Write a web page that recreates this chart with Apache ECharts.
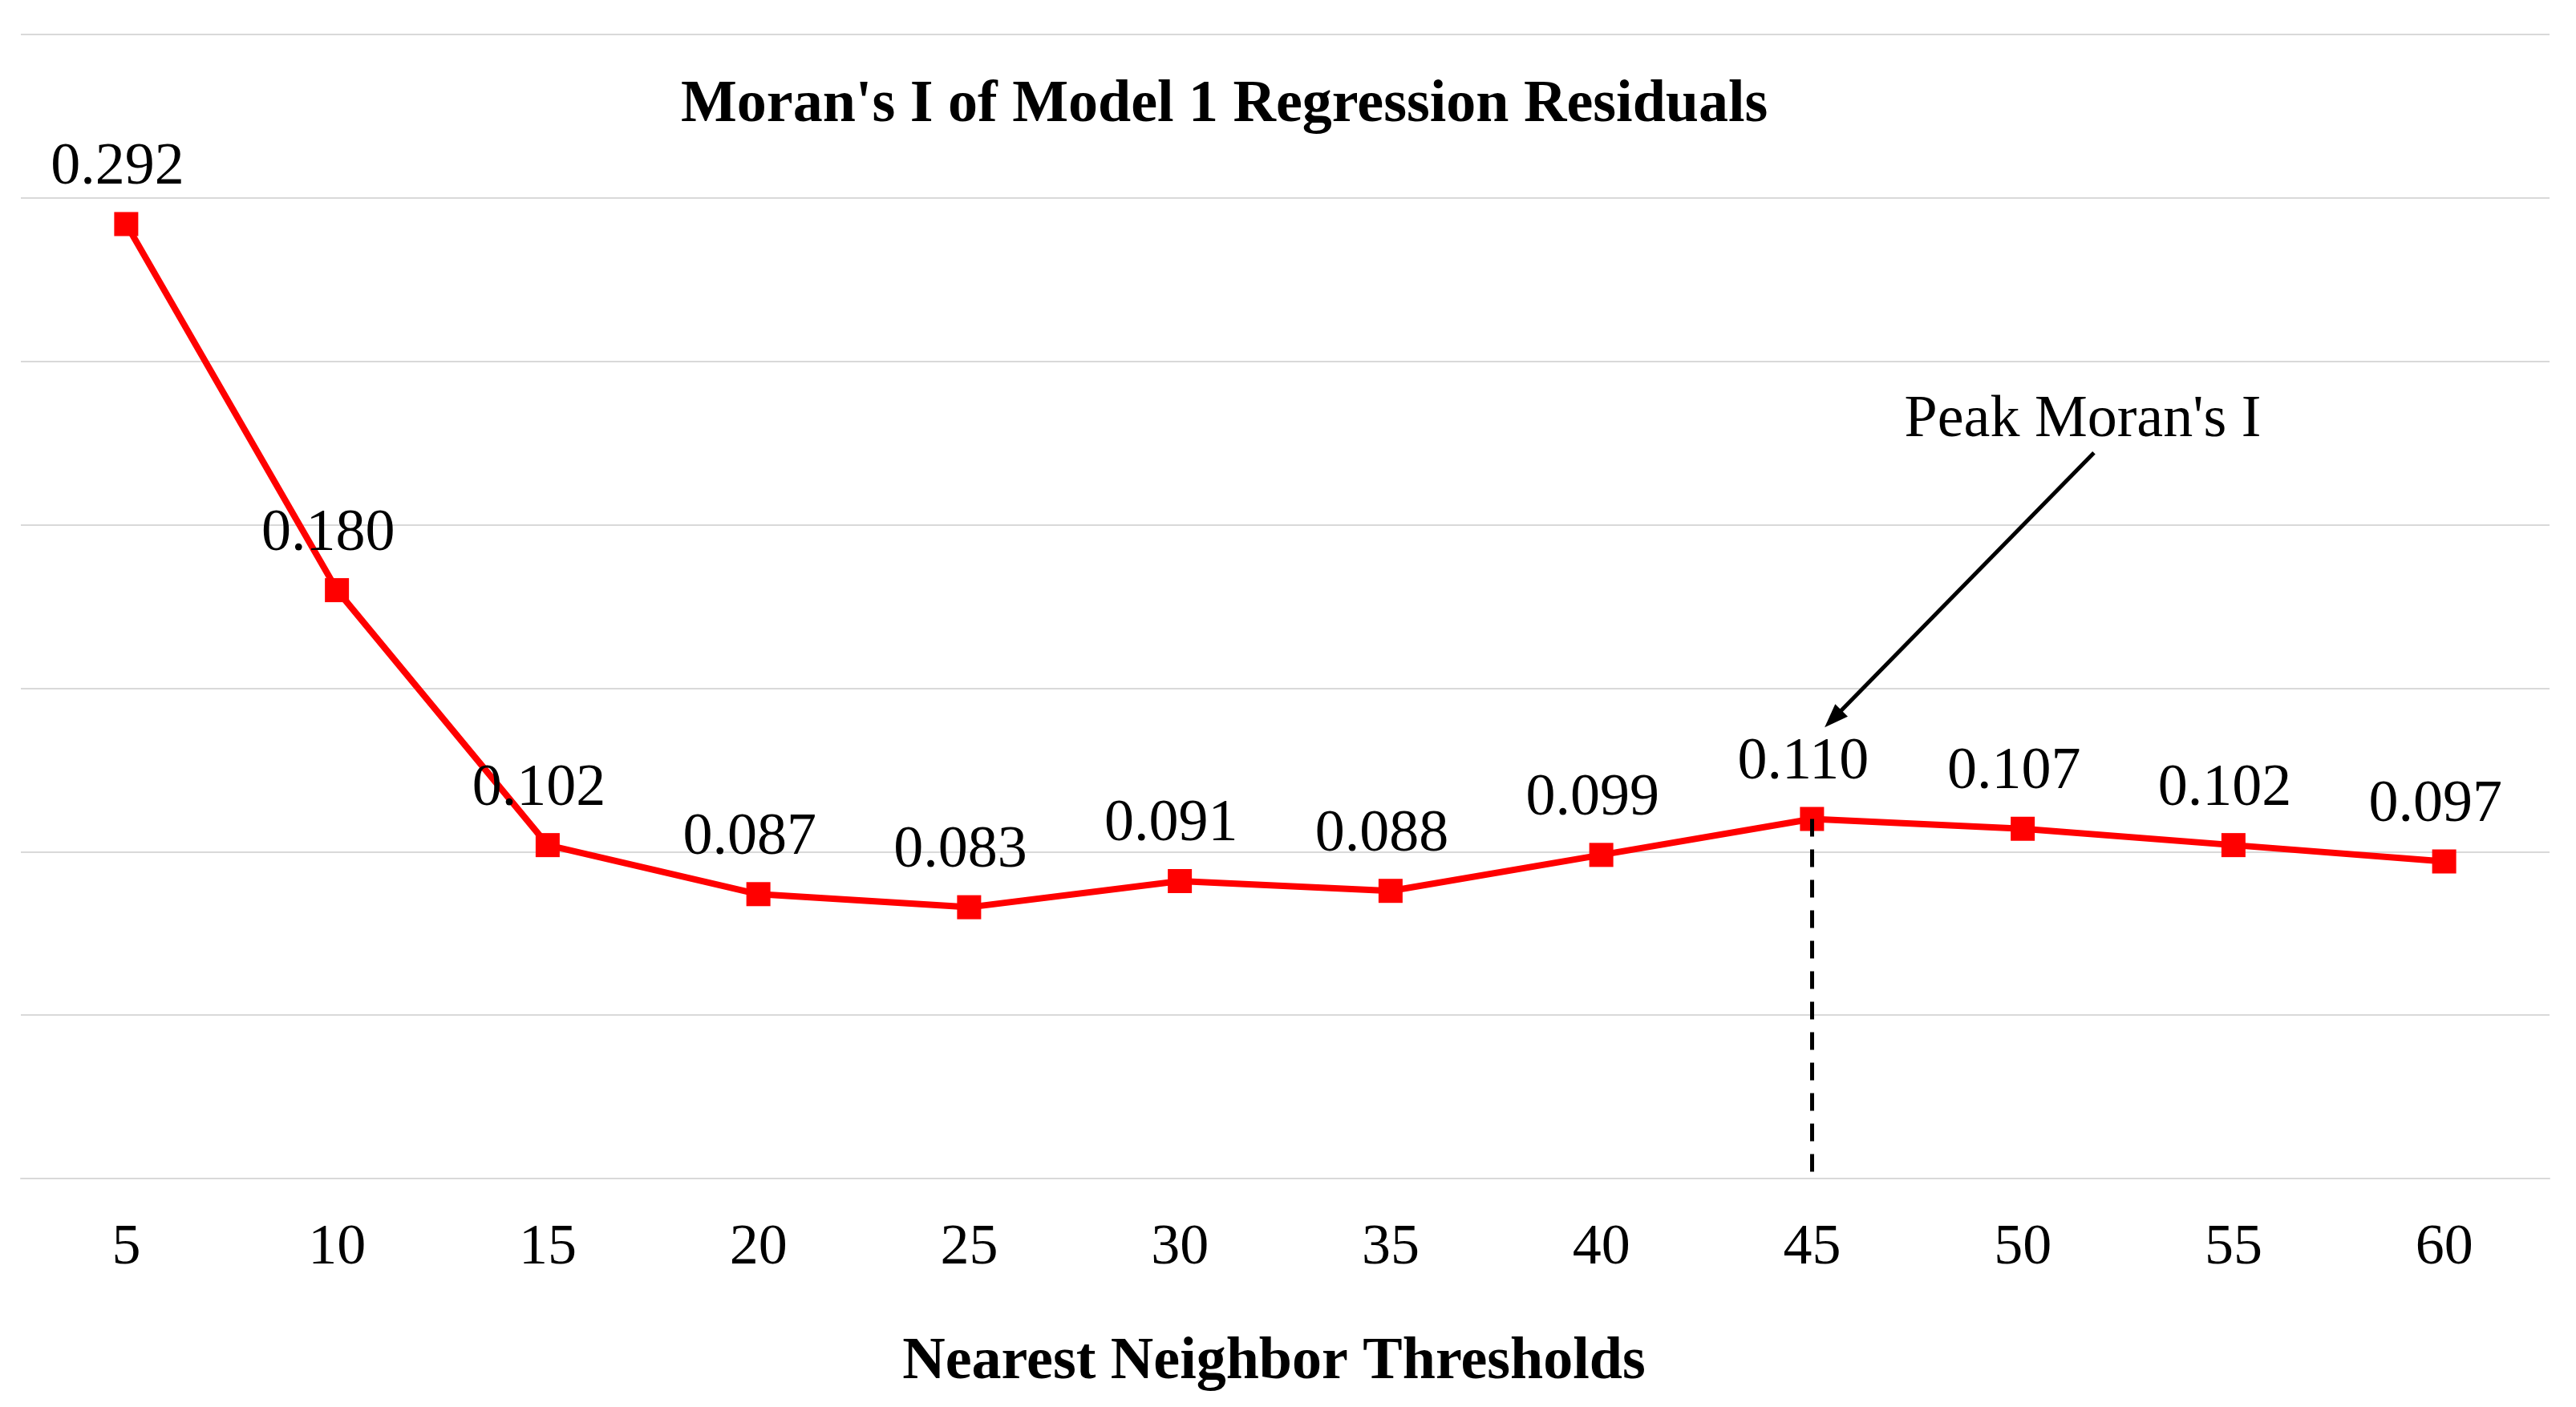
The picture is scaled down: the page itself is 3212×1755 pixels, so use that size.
<!DOCTYPE html>
<html><head><meta charset="utf-8">
<script src="https://cdn.jsdelivr.net/npm/echarts@6/dist/echarts.min.js"></script>
<style>html,body{margin:0;padding:0;background:#fff}#c{width:3212px;height:1755px}</style>
</head><body><div id="c"></div>
<script>
const categories = ['5','10','15','20','25','30','35','40','45','50','55','60'];
const moransI = [0.292, 0.180, 0.102, 0.087, 0.083, 0.091, 0.088, 0.099, 0.110, 0.107, 0.102, 0.097];
const yMin = 0, yMax = 0.35, yInterval = 0.05;
const titleText = "Moran's I of Model 1 Regression Residuals";
const xAxisName = 'Nearest Neighbor Thresholds';
const peakCategory = '45';
const peakValue = 0.110;
const annotationText = "Peak Moran's I";
// annotation anchor points in data space: [category index, value]
const annotationTextAt = [9.285, 0.232];
const arrowFrom = [9.338, 0.222];
const arrowTo = [8.06, 0.138];

const FONT = "'Liberation Serif', 'Times New Roman', serif";
const chart = echarts.init(document.getElementById('c'));
chart.setOption({
  animation: false,
  backgroundColor: '#fff',
  title: {
    text: titleText, left: 844, top: 90,
    textStyle: {fontFamily: FONT, fontSize: 74, fontWeight: 'bold', color: '#000'}
  },
  grid: {left: 26, right: 33, top: 43, bottom: 285},
  xAxis: {
    type: 'category', data: categories, boundaryGap: true,
    axisTick: {show: false},
    axisLine: {lineStyle: {color: '#d9d9d9', width: 2}},
    axisLabel: {color: '#000', fontFamily: FONT, fontSize: 72, margin: 51},
    name: xAxisName, nameLocation: 'middle', nameGap: 193,
    nameTextStyle: {fontFamily: FONT, fontSize: 74, fontWeight: 'bold', color: '#000', padding: [0, 28, 0, 0]}
  },
  yAxis: {
    type: 'value', min: yMin, max: yMax, interval: yInterval,
    axisLabel: {show: false}, axisLine: {show: false}, axisTick: {show: false},
    splitLine: {lineStyle: {color: '#d9d9d9', width: 2}}
  },
  series: [{
    type: 'line', data: moransI,
    symbol: 'rect', symbolSize: 30,
    itemStyle: {color: '#ff0000'},
    lineStyle: {color: '#ff0000', width: 8},
    label: {
      show: true, position: 'top', distance: 18, offset: [-11, 0],
      formatter: p => p.value.toFixed(3),
      fontFamily: FONT, fontSize: 74, color: '#000'
    },
    markLine: {
      silent: true, symbol: ['none', 'none'],
      label: {show: false},
      lineStyle: {color: '#000', width: 5, type: [22, 16]},
      data: [[{coord: [peakCategory, peakValue]}, {coord: [peakCategory, 0]}]]
    },
    z: 3
  }]
});

function px(pt) {
  const i0 = Math.floor(pt[0]), f = pt[0] - i0;
  const a = chart.convertToPixel({gridIndex: 0}, [i0, pt[1]]);
  const b = chart.convertToPixel({gridIndex: 0}, [i0 + 1, pt[1]]);
  return [a[0] + (b[0] - a[0]) * f, a[1]];
}
const t = px(annotationTextAt), s = px(arrowFrom), e = px(arrowTo);
const dx = e[0] - s[0], dy = e[1] - s[1], len = Math.hypot(dx, dy);
const ux = dx / len, uy = dy / len, L = 30, W = 11;
const bx = e[0] - ux * L, by = e[1] - uy * L;
chart.setOption({
  graphic: [
    {type: 'text', z: 10, style: {text: annotationText, x: t[0], y: t[1], fill: '#000',
      fontFamily: FONT, fontSize: 74, align: 'center', verticalAlign: 'middle'}},
    {type: 'line', z: 10, shape: {x1: s[0], y1: s[1], x2: bx + ux * 4, y2: by + uy * 4},
      style: {stroke: '#000', lineWidth: 5}},
    {type: 'polygon', z: 10, shape: {points: [[e[0], e[1]], [bx - uy * W, by + ux * W], [bx + uy * W, by - ux * W]]},
      style: {fill: '#000'}}
  ]
});
</script></body></html>
